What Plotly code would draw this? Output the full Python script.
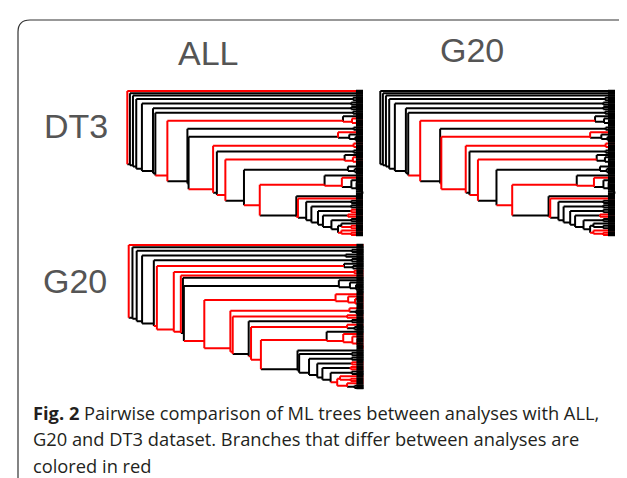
import plotly.graph_objects as go

# ---------------- data ----------------
# DT3 tree topology (shared by the ALL-vs-DT3 and G20-vs-DT3 panels)
# backbone node depths (0 = root, 100 = tips)
DT3_node_depth = [0, 1.1, 2.4, 3.8, 6.2, 10.9, 11.9, 17.0, 25.5, 26.0, 36.4, 38.0,
                  41.6, 49.5, 56.2, 71.7, 72.4, 75.9, 78.1, 80.9, 83.0, 86.6, 89.4]
# side clade attached above each backbone node (last entry = bottom clade)
DT3_side_tips = [1, 1, 1, 2, 2, 2, 2, 5, 2, 5, 3, 2, 5, 4, 9, 1, 1, 2, 2, 2, 2, 2, 3, 3]
DT3_side_depth = [100, 100, 100, 95.8, 95, 95, 95.8, 91.5, 96, 89.4, 96, 96, 92.2,
                  93.6, 83.7, 100, 100, 95, 95, 95, 93.6, 95, 90.8, 90.8]

# colours for ALL vs DT3 (R = differing branch, K = shared branch)
A_node_col = "RKKKKKKRKKRKRKRKRKKKKKK"
A_side_edge = "RKKKKKKRKKRKRKRKRKKKKKKR"
A_side_inner = ["R", "K", "K", "K", "K", "K", "K", "KR", "K", "RK", "R", "K", "KR",
                "K", "KRK", "K", "R", "K", "K", "R", "R", "K", "KR", "R"]

# colours for G20 vs DT3
B_node_col = "KKKKKKKRKRRKRKRKRKKKKKK"
B_side_edge = "KKKKKKKRKRRKRKRKRKKKKKKR"
B_side_inner = ["K", "K", "K", "K", "K", "K", "K", "K", "K", "RK", "R", "K", "K",
                "K", "KRK", "K", "R", "K", "K", "K", "R", "K", "K", "R"]

# G20 tree topology, coloured against ALL
C_node_depth = [0, 1.6, 3.4, 5.7, 10.7, 12.0, 19.2, 22.2, 23.1, 23.5, 32.2, 43.3,
                44.3, 51.1, 52.1, 56.3, 71.9, 72.6, 76.8, 80.3, 82.5, 86.0, 88.8]
C_side_tips = [1, 1, 2, 2, 2, 3, 2, 1, 1, 6, 6, 3, 2, 2, 3, 8, 1, 2, 2, 2, 2, 2, 3, 3]
C_side_depth = [100, 100, 95, 92.4, 95, 91.7, 96, 100, 100, 89.5, 88.1, 94, 93, 95,
                93, 84.3, 100, 95, 95, 95, 94.5, 95, 90, 93]
C_node_col = "RKKKKRRRKKRRRKRRKKKKKKR"
C_side_edge = "RKKKKRRRKKRRRKRRKKKKKKRR"
C_side_inner = ["R", "K", "K", "K", "K", "K", "R", "R", "K", "KK", "RR", "RK", "R",
                "K", "RK", "KR", "K", "K", "K", "R", "R", "K", "R", "RK"]

col_labels = ["ALL", "G20"]
row_labels = ["DT3", "G20"]
caption = ["<b>Fig. 2</b> Pairwise comparison of ML trees between analyses with ALL,",
           "G20 and DT3 dataset. Branches that differ between analyses are",
           "colored in red"]

COLORS = {"R": "#ff0000", "K": "#000000"}
TIP_END = 100
STUB_START = 97


# ---------------- tree layout ----------------
def layout_tree(node_depth, node_col, side_tips, side_depth, side_edge, side_inner):
    segs = {"R": [], "K": []}
    N = sum(side_tips)
    starts = []
    s = 0
    for k in side_tips:
        starts.append(s)
        s += k

    def hseg(c, x0, x1, y):
        segs[c].append(((x0, y), (x1, y)))

    def vseg(c, x, y0, y1):
        segs[c].append(((x, y0), (x, y1)))

    def sub(start, k, b, inner, level):
        c = inner[min(level, len(inner) - 1)]
        hseg(c, b, TIP_END, start)
        if k == 2:
            hseg(c, b, TIP_END, start + 1)
            vseg(c, b, start, start + 1)
        else:
            b2 = b + (TIP_END - b) * 0.45
            y2 = (start + 1 + start + k - 1) / 2
            c2 = inner[min(level + 1, len(inner) - 1)]
            hseg(c2, b, b2, y2)
            vseg(c, b, start, y2)
            sub(start + 1, k - 1, b2, inner, level + 1)

    def clade(i, from_depth):
        k = side_tips[i]
        st = starts[i]
        if k == 1:
            hseg(side_edge[i], from_depth, TIP_END, st)
            return st
        y = (st + st + k - 1) / 2
        hseg(side_edge[i], from_depth, side_depth[i], y)
        sub(st, k, side_depth[i], side_inner[i], 0)
        return y

    M = len(node_depth)
    ny = [(starts[i] + N - 1) / 2 for i in range(M)]
    for i in range(M):
        ys = clade(i, node_depth[i])
        if i < M - 1:
            ybot = ny[i + 1]
        else:
            ybot = clade(M, node_depth[i])
        vseg(node_col[i], node_depth[i], ys, ybot)
        if i > 0:
            hseg(node_col[i], node_depth[i - 1], node_depth[i], ny[i])
    stubs = [((STUB_START, t), (TIP_END, t)) for t in range(N)]
    return segs, stubs, N


def to_xy(seglist):
    xs, ys = [], []
    for (a, b) in seglist:
        xs += [a[0], b[0], None]
        ys += [a[1], b[1], None]
    return xs, ys


W, H = 627, 478
panels = [
    dict(topo=(DT3_node_depth, A_node_col, DT3_side_tips, DT3_side_depth, A_side_edge, A_side_inner),
         px=(119.3, 355.0, 83.0, 227.0)),
    dict(topo=(DT3_node_depth, B_node_col, DT3_side_tips, DT3_side_depth, B_side_edge, B_side_inner),
         px=(372.3, 607.0, 83.0, 227.0)),
    dict(topo=(C_node_depth, C_node_col, C_side_tips, C_side_depth, C_side_edge, C_side_inner),
         px=(120.7, 355.5, 237.0, 380.0)),
]

fig = go.Figure()
layout_axes = {}
for idx, p in enumerate(panels, start=1):
    segs, stubs, N = layout_tree(*p["topo"])
    sfx = "" if idx == 1 else str(idx)
    xa, ya = "x" + sfx, "y" + sfx
    for c in ["K", "R"]:
        xs, ys = to_xy(segs[c])
        fig.add_trace(go.Scatter(x=xs, y=ys, mode="lines", xaxis=xa, yaxis=ya,
                                 line=dict(color=COLORS[c], width=2), hoverinfo="skip",
                                 showlegend=False))
    xs, ys = to_xy(stubs)
    fig.add_trace(go.Scatter(x=xs, y=ys, mode="lines", xaxis=xa, yaxis=ya,
                             line=dict(color="#000000", width=2.6), hoverinfo="skip",
                             showlegend=False))
    x0, x1, y0, y1 = p["px"]
    padx, pady = 2.0, 1.0
    sx = (x1 - x0) / 100.0
    sy = (y1 - y0) / (N - 1)
    dx0 = (x0 - padx * sx) / W
    dx1 = (x1 + padx * sx) / W
    dy_top = 1 - (y0 - pady * sy) / H
    dy_bot = 1 - (y1 + pady * sy) / H
    layout_axes["xaxis" + sfx] = dict(domain=[dx0, dx1], range=[-padx, 100 + padx],
                                      visible=False, fixedrange=True)
    layout_axes["yaxis" + sfx] = dict(domain=[dy_bot, dy_top], range=[N - 1 + pady, -pady],
                                      visible=False, fixedrange=True)

annotations = []
lab_font = dict(family="Liberation Sans, Arial", size=34, color="#555555")
for txt, (cx, cy) in zip(col_labels, [(200, 45), (464, 42)]):
    annotations.append(dict(text=txt, x=cx / W, y=1 - cy / H, xref="paper", yref="paper",
                            xanchor="center", yanchor="middle", showarrow=False, font=lab_font))
for txt, (cx, cy) in zip(row_labels, [(68, 118), (67, 273)]):
    annotations.append(dict(text=txt, x=cx / W, y=1 - cy / H, xref="paper", yref="paper",
                            xanchor="center", yanchor="middle", showarrow=False, font=lab_font))
for i, line in enumerate(caption):
    annotations.append(dict(text=line, x=24 / W, y=1 - (404 + 26.5 * i) / H, xref="paper",
                            yref="paper", xanchor="left", yanchor="middle", showarrow=False,
                            borderpad=0,
                            font=dict(family="Open Sans", size=18.3, color="#231f20")))


def P(x, y):
    return f"{x / W:.5f},{1 - y / H:.5f}"


border = ("M " + P(10, 490) + " L " + P(10, 24) + " Q " + P(10, 12) + " " + P(22, 12) +
          " L " + P(614, 12) + " Q " + P(626, 12) + " " + P(626, 24) + " L " + P(626, 490))

fig.update_layout(
    width=W, height=H, margin=dict(l=0, r=0, t=0, b=0),
    paper_bgcolor="white", plot_bgcolor="rgba(0,0,0,0)",
    annotations=annotations,
    shapes=[dict(type="path", path=border, xref="paper", yref="paper",
                 line=dict(color="#333333", width=1.2))],
    **layout_axes,
)
fig.write_html("out.html", config={"displayModeBar": False})
